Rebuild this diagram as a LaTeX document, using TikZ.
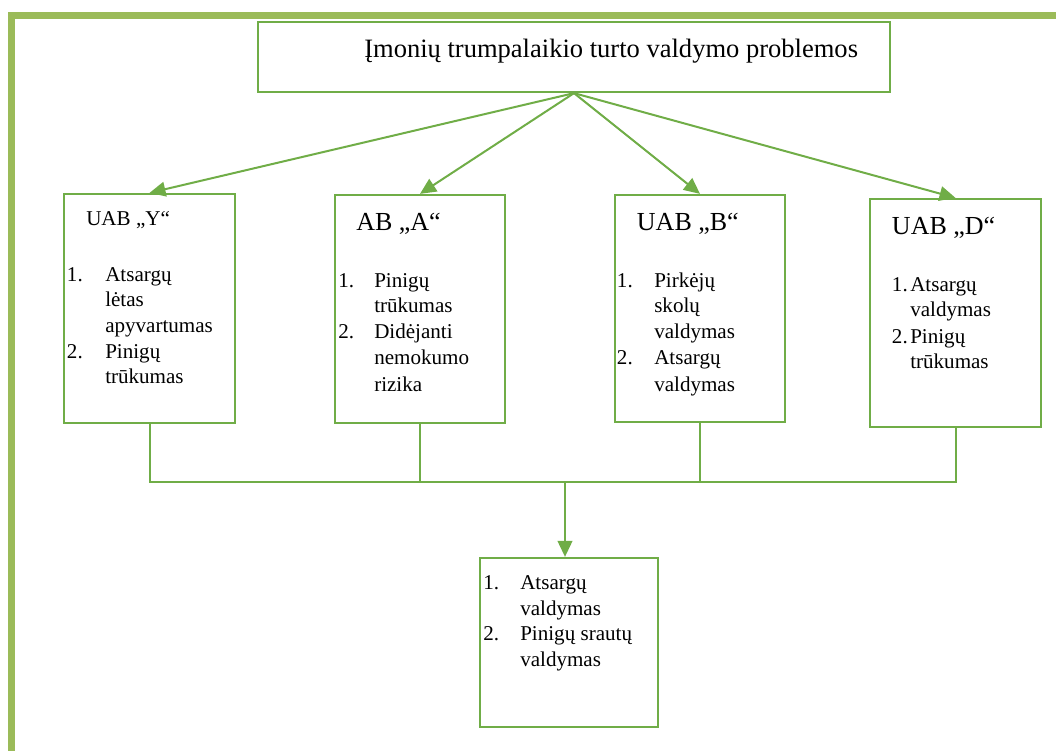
\documentclass[tikz,border=0pt]{standalone}
\usepackage{fontspec}
\setmainfont{Liberation Serif}
\usetikzlibrary{arrows.meta}
\definecolor{boxgreen}{HTML}{70AD47}
\definecolor{framegreen}{HTML}{9BBB59}
\begin{document}
\begin{tikzpicture}[x=0.75pt,y=-0.75pt,
  box/.style={draw=boxgreen,line width=1.7pt,rectangle,inner sep=0pt},
  conn/.style={draw=boxgreen,line width=1.5pt},
  arr/.style={conn,-{Triangle[length=12pt,width=11pt]},fill=boxgreen},
  itemtxt/.style={anchor=base west,inner sep=0pt,
    font=\rmfamily\fontsize{15.8pt}{19pt}\selectfont},
  headtxt/.style={anchor=base west,inner sep=0pt,
    font=\rmfamily\fontsize{19.5pt}{23pt}\selectfont},
  smallhead/.style={anchor=base west,inner sep=0pt,
    font=\rmfamily\fontsize{15.8pt}{19pt}\selectfont}]
\useasboundingbox (0,0) rectangle (1056,751);
% page frame
\fill[framegreen] (8,12) rectangle (15,751);
\fill[framegreen] (8,12) rectangle (1056,19);

% boxes
\node[box,minimum width=474pt,minimum height=52.5pt] (top) at (574,57) {};
\node[box,minimum width=128.25pt,minimum height=171.75pt] (Y) at (149.5,308.5) {};
\node[box,minimum width=127.5pt,minimum height=171pt] (A) at (420,309) {};
\node[box,minimum width=127.5pt,minimum height=170.25pt] (B) at (700,308.5) {};
\node[box,minimum width=128.25pt,minimum height=171pt] (D) at (955.5,313) {};
\node[box,minimum width=133.5pt,minimum height=126.75pt] (R) at (569,642.5) {};

% title
\node[headtxt,font=\rmfamily\fontsize{19.9pt}{23pt}\selectfont] (title) at (364,57) {Įmonių trumpalaikio turto valdymo problemos};

% UAB Y
\node[smallhead] (hY) at (86,225) {UAB „Y“};
\node[itemtxt] (nY1) at (66.7,281.7) {1.};
\node[itemtxt] (tY1a) at (105,281.7) {Atsargų};
\node[itemtxt] (tY1b) at (105,306.5) {lėtas};
\node[itemtxt] (tY1c) at (105,332) {apyvartumas};
\node[itemtxt] (nY2) at (66.7,358) {2.};
\node[itemtxt] (tY2a) at (105,358) {Pinigų};
\node[itemtxt] (tY2b) at (105,383.5) {trūkumas};

% AB A
\node[headtxt] (hA) at (356,230) {AB „A“};
\node[itemtxt] (nA1) at (338,287.3) {1.};
\node[itemtxt] (tA1a) at (374,287.3) {Pinigų};
\node[itemtxt] (tA1b) at (374,312.7) {trūkumas};
\node[itemtxt] (nA2) at (338,338) {2.};
\node[itemtxt] (tA2a) at (374,338) {Didėjanti};
\node[itemtxt] (tA2b) at (374,364) {nemokumo};
\node[itemtxt] (tA2c) at (374,391) {rizika};

% UAB B
\node[headtxt] (hB) at (636.7,230.7) {UAB „B“};
\node[itemtxt] (nB1) at (616.7,287) {1.};
\node[itemtxt] (tB1a) at (654,287) {Pirkėjų};
\node[itemtxt] (tB1b) at (654,312.7) {skolų};
\node[itemtxt] (tB1c) at (654,338) {valdymas};
\node[itemtxt] (nB2) at (616.7,364) {2.};
\node[itemtxt] (tB2a) at (654,364) {Atsargų};
\node[itemtxt] (tB2b) at (654,391) {valdymas};

% UAB D
\node[headtxt] (hD) at (891.7,234) {UAB „D“};
\node[itemtxt] (nD1) at (891.7,291.7) {1.};
\node[itemtxt] (tD1a) at (910,291.7) {Atsargų};
\node[itemtxt] (tD1b) at (910,316.7) {valdymas};
\node[itemtxt] (nD2) at (891.7,343) {2.};
\node[itemtxt] (tD2a) at (910,343) {Pinigų};
\node[itemtxt] (tD2b) at (910,368) {trūkumas};

% result box
\node[itemtxt] (nR1) at (483,589) {1.};
\node[itemtxt] (tR1a) at (520,589) {Atsargų};
\node[itemtxt] (tR1b) at (520,615) {valdymas};
\node[itemtxt] (nR2) at (483,640) {2.};
\node[itemtxt] (tR2a) at (520,640) {Pinigų srautų};
\node[itemtxt] (tR2b) at (520,666.5) {valdymas};

% connectors from the title box
\draw[arr] (top.south) -- (Y.north);
\draw[arr] (top.south) -- (A.north);
\draw[arr] (top.south) -- (B.north);
\draw[arr] (top.south) -- (D.north);

% collecting bus
\coordinate (bus) at (565,482);
\draw[conn] (Y.south) |- (bus) -| (D.south);
\draw[conn] (A.south) -- (A.south |- bus);
\draw[conn] (B.south) -- (B.south |- bus);
\draw[arr] (bus) -- (bus |- R.north);
\end{tikzpicture}
\end{document}
